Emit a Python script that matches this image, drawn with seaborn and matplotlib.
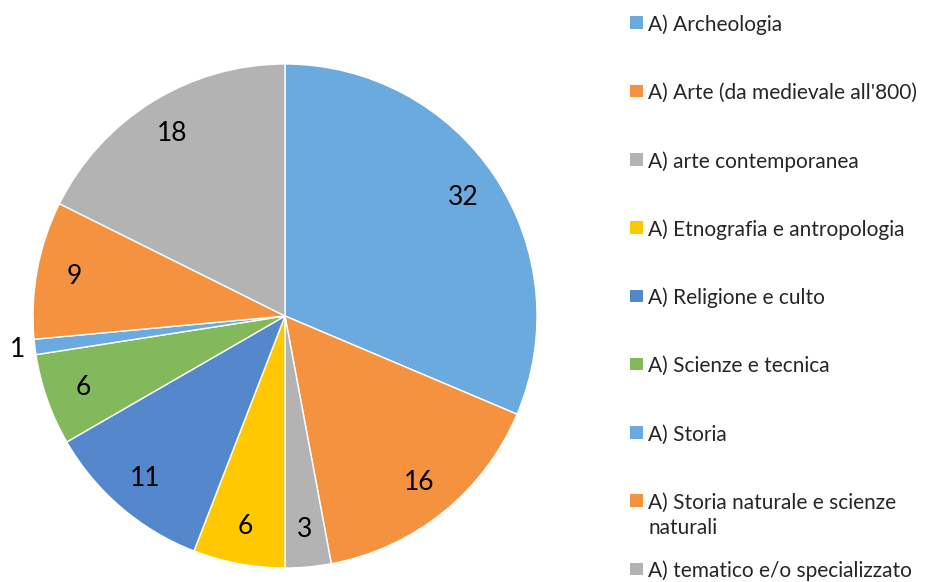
import matplotlib.pyplot as plt
import seaborn as sns
import numpy as np
from matplotlib.patches import Rectangle

sns.set_theme(style="white")
plt.rcParams['font.family'] = ['Lato', 'DejaVu Sans']

# Data
categories = [
    "A) Archeologia",
    "A) Arte (da medievale all'800)",
    "A) arte contemporanea",
    "A) Etnografia e antropologia",
    "A) Religione e culto",
    "A) Scienze e tecnica",
    "A) Storia",
    "A) Storia naturale e scienze\nnaturali",
    "A) tematico e/o specializzato",
]
counts = [32, 16, 3, 6, 11, 6, 1, 9, 18]
colors = ["#6AAADE", "#F59240", "#B3B3B3", "#FFC800", "#5587CC",
          "#82B95A", "#6AAADE", "#F59240", "#B3B3B3"]

W, H = 927, 582
fig = plt.figure(figsize=(W / 100, H / 100), dpi=100)

# pie axes: center (285, 316), radius 252 px
cx, cy, r = 285, 316, 252
ax = fig.add_axes([(cx - r) / W, (H - cy - r) / H, 2 * r / W, 2 * r / H])
wedges, texts = ax.pie(counts, colors=colors, startangle=90, counterclock=False,
                       labels=[str(c) for c in counts], labeldistance=0.85,
                       wedgeprops=dict(edgecolor="white", linewidth=1),
                       textprops=dict(fontsize=19, color="black"))
ax.set_aspect("equal")
ax.set_xlim(-1, 1)
ax.set_ylim(-1, 1)

# small slice label goes outside
for w, t, c in zip(wedges, texts, counts):
    t.set_ha("center")
    t.set_va("center")
    if c == 1:
        ang = np.deg2rad((w.theta1 + w.theta2) / 2)
        t.set_position((1.07 * np.cos(ang), 1.07 * np.sin(ang)))

# legend drawn by hand, Excel style
y0, step, line_h = 25, 68.25, 25
for i, (lab, col) in enumerate(zip(categories, colors)):
    yy = y0 + i * step
    fig.patches.append(Rectangle((630 / W, 1 - (yy + 4) / H), 12.5 / W, 12.5 / H,
                                 transform=fig.transFigure, facecolor=col,
                                 edgecolor="none"))
    for j, line in enumerate(lab.split("\n")):
        fig.text(648 / W, 1 - (yy + j * line_h) / H, line, fontsize=15,
                 color="#262626", ha="left", va="center")

plt.savefig("out.png", dpi=100)
